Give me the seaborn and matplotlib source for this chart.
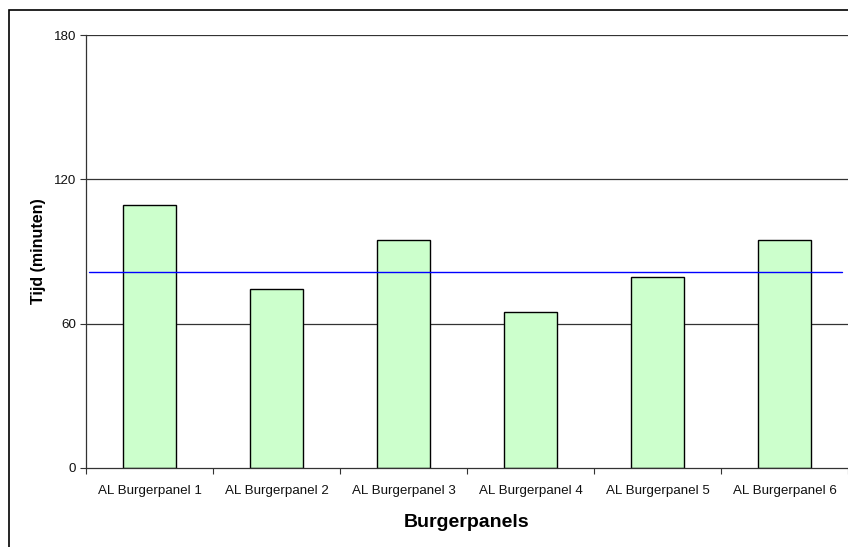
import numpy as np
import pandas as pd
import matplotlib
matplotlib.use("Agg")
import matplotlib.pyplot as plt
import seaborn as sns
from matplotlib.patches import Rectangle

panels = ["AL Burgerpanel 1", "AL Burgerpanel 2", "AL Burgerpanel 3",
          "AL Burgerpanel 4", "AL Burgerpanel 5", "AL Burgerpanel 6"]
tijd = [109.3, 74.4, 94.8, 64.8, 79.6, 94.6]
gemiddelde = 81.3
yticks = [0, 60, 120, 180]

sns.set_style("white")
plt.rcParams['font.family'] = ['Liberation Sans', 'DejaVu Sans']

df = pd.DataFrame({"panel": panels, "tijd": tijd})

fig = plt.figure(figsize=(8.48, 5.47), dpi=100)
ax = fig.add_axes([86/848, 1-468/547, 762/848, 433/547])

# gridlines behind bars
for y in yticks[1:]:
    ax.axhline(y, color='#333333', lw=0.9, zorder=0)

sns.barplot(data=df, x="panel", y="tijd", color="#ccffcc", edgecolor="black",
            linewidth=1.0, width=0.41, saturation=1, ax=ax, zorder=2)

ax.axhline(gemiddelde, xmin=0.004, xmax=0.992, color='#0000ff', lw=1.0, zorder=3)

ax.set_xlim(-0.5, 5.5)
ax.set_ylim(0, 180)
ax.set_yticks(yticks)
ax.tick_params(axis='y', length=4, width=0.8, color='#333333', labelsize=9.6,
               labelcolor='#111111', pad=3, left=True)
ax.set_xticks(range(len(panels)))
ax.set_xticklabels(panels, fontsize=9.6, color='#111111')
ax.tick_params(axis='x', which='major', length=0, pad=12.5)
ax.set_xticks(np.arange(-0.5, 6, 1), minor=True)
ax.tick_params(axis='x', which='minor', length=4, width=0.8, color='#333333', bottom=True)

for s in ['top', 'right']:
    ax.spines[s].set_visible(False)
for s in ['left', 'bottom']:
    ax.spines[s].set_color('#333333')
    ax.spines[s].set_linewidth(0.9)

ax.set_ylabel("Tijd (minuten)", fontsize=11.5, fontweight='bold', color='black')
ax.yaxis.set_label_coords(-0.053, 0.5)
ax.set_xlabel("Burgerpanels", fontsize=14, fontweight='bold', color='black')
ax.xaxis.set_label_coords(0.5, -0.106)

fig.patches.append(Rectangle((9/848, -0.05), 1, 1.05-10/547, transform=fig.transFigure,
                             fill=False, edgecolor='black', lw=1.2))

fig.savefig("out.png", dpi=100)
